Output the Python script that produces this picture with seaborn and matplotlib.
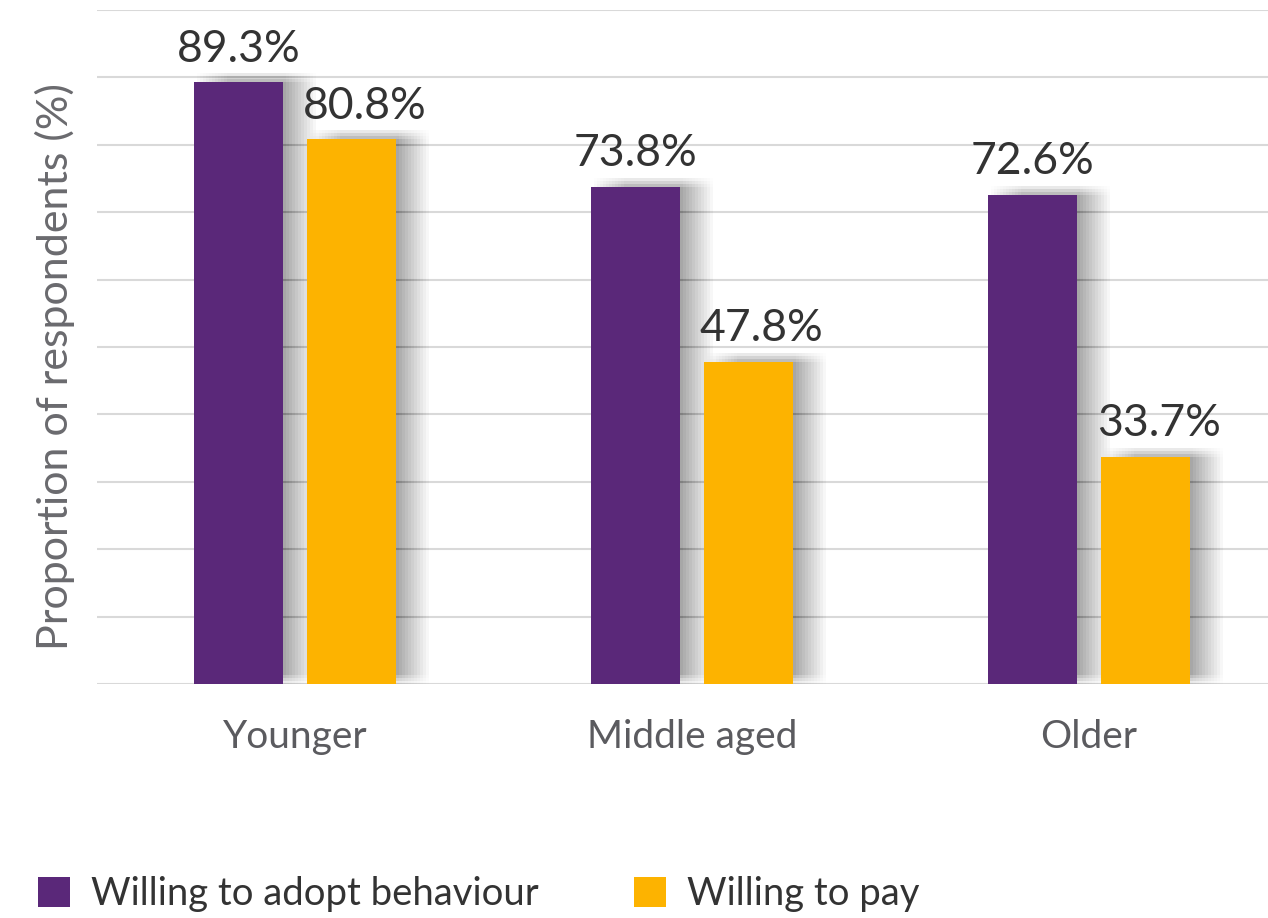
import matplotlib
matplotlib.use("Agg")
import matplotlib.pyplot as plt
import matplotlib.patheffects as pe
from matplotlib.patches import Patch
import seaborn as sns
import pandas as pd

# Share of respondents by age group
groups = ["Younger", "Middle aged", "Older"]
adopt_behaviour = [89.3, 73.8, 72.6]
willing_to_pay = [80.8, 47.8, 33.7]
series_names = ["Willing to adopt behaviour", "Willing to pay"]
colors = ["#5A2879", "#FDB300"]

df = pd.DataFrame({
    "group": groups * 2,
    "value": adopt_behaviour + willing_to_pay,
    "series": [series_names[0]] * 3 + [series_names[1]] * 3,
})

sns.set_theme(style="white")
plt.rcParams["font.family"] = ["Lato", "DejaVu Sans"]

W, H = 1268, 918
fig = plt.figure(figsize=(W / 100, H / 100), dpi=100)
ax = fig.add_axes([96.5 / W, 234 / H, 1191 / W, 674 / H])

sns.barplot(data=df, x="group", y="value", hue="series", order=groups,
            hue_order=series_names, palette=colors, width=0.57, gap=0.214,
            saturation=1, legend=False, ax=ax, zorder=3, linewidth=0)

# soft drop shadow to the right of each bar, built from faint stacked layers
px = 72 / 100
shadow = []
for i in range(1, 12):
    for j in range(4):
        shadow.append(pe.SimplePatchShadow(offset=(i * 3.0 * px, j * 3 * px),
                                           shadow_rgbFace="black", alpha=0.0095))
for p in ax.patches:
    p.set_path_effects(shadow + [pe.Normal()])

ax.set_ylim(0, 100)
ax.set_xlim(-0.5, 2.5)
ax.set_yticks(range(0, 101, 10))
ax.set_yticklabels([])
ax.yaxis.grid(True, color="#d9d9d9", linewidth=1.5)
ax.set_axisbelow(True)
for s in ax.spines.values():
    s.set_visible(False)
ax.tick_params(axis="y", length=0)
ax.tick_params(axis="x", length=0, pad=25, labelsize=28, labelcolor="#5b5b5f")
ax.set_xlabel("")
ax.set_ylabel("")

for k, cont in enumerate(ax.containers):
    anns = ax.bar_label(cont, fmt="%.1f%%", padding=9, fontsize=32, color="#333333")
    if k == 1:
        for a in anns:
            a.xyann = (13 * px, 9)

fig.text(55 / W, 1 - 367 / H, "Proportion of respondents (%)", rotation=90,
         ha="center", va="center", fontsize=31, color="#6a6a6e")

handles = [Patch(facecolor=c, edgecolor="none") for c in colors]
fig.legend(handles, series_names, loc="center left",
           bbox_to_anchor=(38 / W, 24 / H), ncol=2, frameon=False,
           fontsize=27.5, labelcolor="#333333", handlelength=0.84,
           handleheight=0.84, handletextpad=0.55, columnspacing=2.5,
           borderpad=0, borderaxespad=0)

fig.savefig("out.png", dpi=100)
